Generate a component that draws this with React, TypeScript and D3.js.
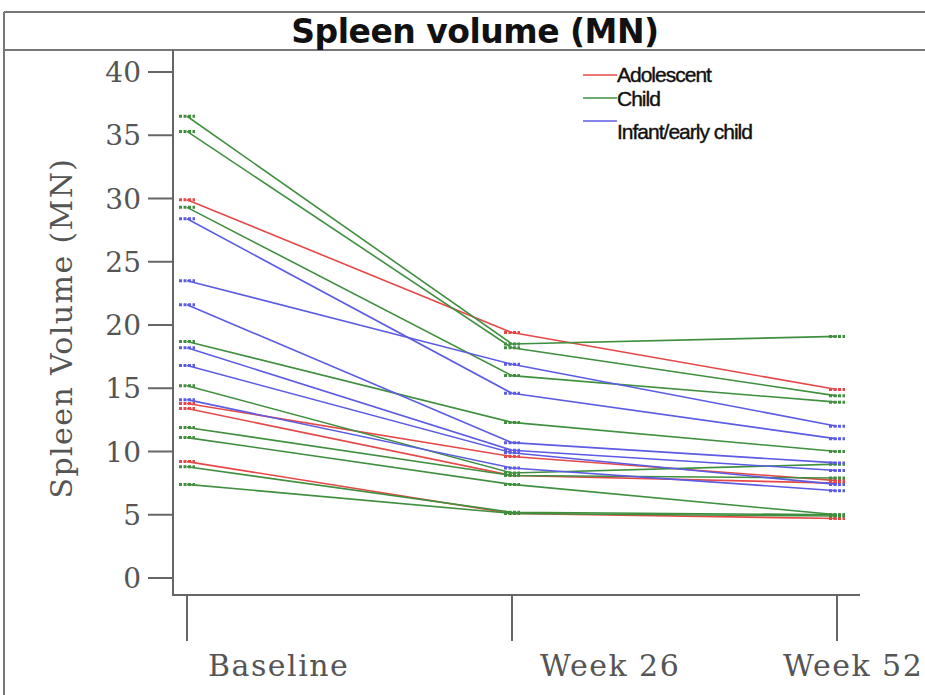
import React from "react";
import * as d3 from "d3";

const timepoints = ["Baseline", "Week 26", "Week 52"];
const groups = ["Adolescent", "Child", "Infant/early child"];
const groupColors = ["#e64848", "#3f8f3f", "#5b5be4"];

const adolescent = [
  [29.9, 19.4, 14.9],
  [13.8, 9.6, 7.7],
  [13.4, 8.1, 7.5],
  [9.2, 5.1, 4.7],
];
const child = [
  [36.5, 18.5, 19.1],
  [35.3, 18.2, 14.4],
  [29.3, 16.0, 13.9],
  [18.7, 12.3, 10.0],
  [15.2, 8.3, 9.0],
  [11.9, 8.1, 7.9],
  [11.1, 7.4, 5.0],
  [8.8, 5.2, 5.0],
  [7.4, 5.1, 4.9],
];
const infant = [
  [28.4, 14.6, 11.0],
  [23.5, 16.9, 12.0],
  [21.6, 10.7, 9.1],
  [18.2, 10.1, 8.5],
  [16.8, 9.9, 7.4],
  [14.1, 8.7, 6.9],
];
const yTicks = [0, 5, 10, 15, 20, 25, 30, 35, 40];

const W = 925;
const H = 695;

export default function App() {
  const x = d3.scalePoint<string>().domain(timepoints).range([187, 837]);
  const y = d3.scaleLinear().domain([0, 40]).range([578, 72]);
  const line = d3
    .line<number>()
    .x((_, i) => x(timepoints[i]) as number)
    .y((v) => y(v));

  const series = [adolescent, child, infant];
  const axisColor = "#666";
  const textColor = "#555";
  const serif = "'DejaVu Serif', serif";
  const labelDx = [21, 28, -54];

  return (
    <svg
      width={W}
      height={H}
      style={{ position: "absolute", left: 0, top: 0, background: "#fff" }}
    >
      <rect x={0} y={0} width={W} height={H} fill="#fff" />
      {/* frame */}
      <line x1={4} x2={W} y1={12} y2={12} stroke="#777" strokeWidth={2} />
      <line x1={4} x2={4} y1={12} y2={H} stroke="#777" strokeWidth={2} />
      <line x1={4} x2={W} y1={50} y2={50} stroke="#777" strokeWidth={2} />
      <text
        x={475}
        y={43}
        textAnchor="middle"
        fontFamily="'DejaVu Sans', Verdana, sans-serif"
        fontWeight="bold"
        fontSize={33}
        letterSpacing={-0.5}
        fill="#111"
      >
        Spleen volume (MN)
      </text>

      {/* y axis */}
      <line x1={173} x2={173} y1={50} y2={595} stroke={axisColor} strokeWidth={2} />
      {yTicks.map((t) => (
        <g key={t}>
          <line x1={148} x2={173} y1={y(t)} y2={y(t)} stroke={axisColor} strokeWidth={2} />
          <text
            x={141}
            y={y(t)}
            dy="0.36em"
            textAnchor="end"
            fontFamily={serif}
            fontSize={28}
            fill={textColor}
          >
            {t}
          </text>
        </g>
      ))}
      <text
        transform={`translate(72,328) rotate(-90)`}
        textAnchor="middle"
        fontFamily={serif}
        fontSize={30}
        letterSpacing={1.4}
        fill={textColor}
      >
        Spleen Volume (MN)
      </text>

      {/* x axis */}
      <line x1={172} x2={860} y1={595} y2={595} stroke={axisColor} strokeWidth={2} />
      {timepoints.map((tp, i) => (
        <g key={tp}>
          <line
            x1={x(tp)}
            x2={x(tp)}
            y1={595}
            y2={641}
            stroke={axisColor}
            strokeWidth={2}
          />
          <text
            x={(x(tp) as number) + labelDx[i]}
            y={676}
            fontFamily={serif}
            fontSize={30}
            letterSpacing={1.5}
            fill={textColor}
          >
            {tp}
          </text>
        </g>
      ))}

      {/* lines */}
      {series.map((subjects, gi) =>
        subjects.map((vals, si) => (
          <g key={`${gi}-${si}`}>
            <path
              d={line(vals) as string}
              fill="none"
              stroke={groupColors[gi]}
              strokeWidth={1.6}
            />
            {vals.map((v, i) => (
              <line
                key={i}
                x1={(x(timepoints[i]) as number) - 8}
                x2={(x(timepoints[i]) as number) + 8}
                y1={y(v)}
                y2={y(v)}
                stroke={groupColors[gi]}
                strokeWidth={3}
                strokeDasharray="3,1.5"
              />
            ))}
          </g>
        ))
      )}

      {/* legend */}
      {groups.map((g, i) => {
        const ly = [75, 98, 121][i];
        const ty = [82, 106, 139][i];
        return (
          <g key={g}>
            <line x1={583} x2={617} y1={ly} y2={ly} stroke={groupColors[i]} strokeWidth={1.6} />
            <text
              x={617}
              y={ty}
              fontFamily="'Liberation Sans', Arial, sans-serif"
              fontSize={21}
              letterSpacing={-1.0}
              fill="#111"
              stroke="#111"
              strokeWidth={0.4}
            >
              {g}
            </text>
          </g>
        );
      })}
    </svg>
  );
}
